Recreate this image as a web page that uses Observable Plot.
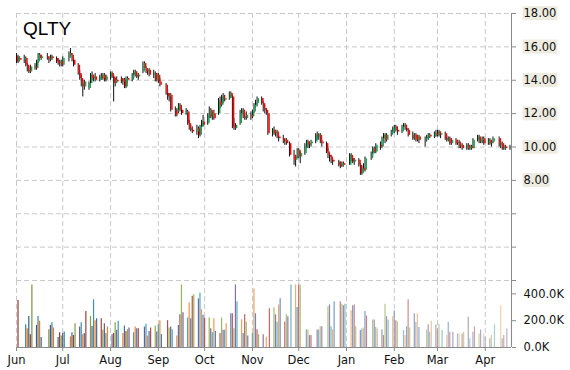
<!DOCTYPE html>
<html><head><meta charset="utf-8">
<script src="https://cdn.jsdelivr.net/npm/d3@7"></script>
<script src="https://cdn.jsdelivr.net/npm/@observablehq/plot@0.6"></script>
<style>
html,body{margin:0;padding:0;background:#fff;}
#chart{position:relative;width:570px;height:370px;overflow:hidden;}
#chart svg{position:absolute;left:0;}
#title{position:absolute;left:23px;top:19px;font:19px/19px "Liberation Sans",Arial,sans-serif;color:#000;z-index:2;}
</style></head><body>
<div id="chart"><div id="title">QLTY</div></div>
<script>
const ticker = "QLTY";
const monthTicks = ["2022-06-01","2022-07-01","2022-08-01","2022-09-01","2022-10-01","2022-11-01","2022-12-01","2023-01-01","2023-02-01","2023-03-01","2023-04-01"];
const monthLabels = ["Jun","Jul","Aug","Sep","Oct","Nov","Dec","Jan","Feb","Mar","Apr"];
const priceTicks = [2,4,6,8,10,12,14,16,18];
const priceLabelMin = 8;
const volumeTicks = [0,200000,400000];
const holidays = ["2022-06-20","2022-07-04","2022-09-05","2022-11-24","2022-12-26","2023-01-02","2023-01-16","2023-02-20","2023-04-07"];
// daily rows: [open, high, low, close, volume (thousands)]
const jun22 = [
[15.4,15.6,15.0,15.1,350],[15.1,15.5,15.0,15.4,0],[15.3,15.4,15.1,15.2,0],[15.2,15.5,15.0,15.3,170],
[15.3,15.4,14.8,14.9,140],[14.9,15.0,14.5,14.6,232],[14.6,14.8,14.4,14.5,96],[14.5,14.9,14.4,14.8,467],
[14.8,15.0,14.6,14.7,165],[14.7,15.2,14.6,15.1,232],[15.1,15.6,15.0,15.5,195],[15.5,15.6,15.2,15.3,74],
[15.3,15.5,15.2,15.4,0],[15.4,15.6,15.2,15.3,133],[15.3,15.4,15.0,15.2,165],[15.2,15.5,15.1,15.4,185],
[15.4,15.5,15.2,15.3,146],[15.3,15.4,15.0,15.1,74],[15.1,15.3,14.9,15.0,111],[15.0,15.2,14.8,15.1,86],
[15.1,15.2,14.8,14.9,104]];
const jul22 = [
[14.9,15.4,14.8,15.3,116],[15.3,15.7,15.1,15.6,79],[15.6,15.9,15.4,15.5,111],[15.5,15.6,15.1,15.2,90],
[15.2,15.3,14.8,14.9,178],[14.9,15.0,14.3,14.4,153],[14.4,14.6,14.0,14.1,185],[14.1,14.3,13.6,13.8,96],
[13.8,14.0,13.0,13.6,104],[13.6,14.0,13.4,13.9,269],[13.5,13.9,13.4,13.8,232],[13.8,14.4,13.7,14.3,156],
[14.3,14.5,14.0,14.1,356],[14.1,14.3,13.9,14.2,200],[14.2,14.4,13.9,14.0,215],[14.0,14.3,13.9,14.2,215],
[14.2,14.4,14.0,14.1,128],[14.1,14.4,14.0,14.3,178],[14.3,14.4,13.9,14.0,104],[14.0,14.3,13.9,14.2,153]];
const aug22 = [
[14.2,14.5,14.0,14.4,96],[14.4,14.5,14.1,14.2,104],[14.2,14.3,12.7,13.8,185],[13.8,14.1,13.6,14.0,128],
[14.0,14.2,13.8,13.9,195],[14.1,14.2,13.8,13.9,104],[13.9,14.1,13.7,14.0,160],[14.0,14.1,13.5,13.6,120],
[13.6,14.2,13.5,14.1,133],[14.1,14.2,13.8,14.0,146],[14.0,14.4,13.9,14.3,111],[14.3,14.6,14.1,14.5,153],
[14.5,14.6,14.2,14.3,140],[14.3,14.5,14.1,14.2,140],[14.2,14.4,14.0,14.3,0],[14.5,15.1,14.4,15.0,153],
[15.0,15.1,14.6,14.7,173],[14.7,14.8,14.4,14.5,86],[14.5,14.7,14.3,14.6,120],[14.6,14.7,14.2,14.3,146],
[14.3,14.6,14.1,14.4,160],[14.4,14.5,13.9,14.0,116],[14.0,14.4,13.9,14.3,170]];
const sep22 = [
[14.3,14.4,13.8,13.9,200],[13.9,14.1,13.6,13.7,96],[13.7,13.8,13.1,13.2,200],[13.2,13.4,12.8,13.0,146],
[13.0,13.2,12.7,13.1,153],[13.1,13.2,12.1,12.2,133],[12.2,12.4,11.8,11.9,86],[12.1,12.3,11.8,12.2,165],
[12.2,12.6,12.0,12.5,244],[12.5,12.6,12.1,12.2,467],[12.2,12.4,11.9,12.0,259],[12.0,12.3,11.9,12.1,220],
[12.1,12.2,11.3,11.4,333],[11.4,11.6,11.0,11.1,215],[11.1,11.3,10.9,11.0,383],[11.0,11.2,10.8,10.9,393],
[10.9,11.3,10.7,11.1,363],[11.1,11.2,10.5,10.7,407],[10.7,11.3,10.6,11.2,281],[11.2,11.6,11.1,11.5,240],
[11.5,11.9,11.2,11.3,220]];
const oct22 = [
[11.4,12.0,11.3,11.9,220],[11.9,12.4,11.7,12.2,140],[12.2,12.3,11.7,11.8,111],[11.8,12.1,11.6,12.0,215],
[12.0,12.2,11.6,11.7,120],[12.0,12.9,11.9,12.7,104],[12.7,13.0,12.3,12.5,220],[12.5,13.1,12.4,13.0,128],
[13.0,13.2,12.6,12.8,128],[12.8,13.1,12.7,12.9,178],[12.9,13.3,12.8,13.2,252],[13.2,13.3,12.9,13.0,252],
[13.0,13.1,11.1,11.2,140],[11.2,11.7,11.0,11.1,467],[11.1,11.4,11.0,11.3,341],[11.4,12.2,11.3,12.0,207],
[12.0,12.3,11.8,12.2,104],[12.2,12.3,11.7,11.8,244],[11.8,12.0,11.6,11.7,190],[11.7,12.1,11.6,11.9,86],
[11.9,12.1,11.6,11.8,104]];
const nov22 = [
[11.8,12.2,11.7,12.1,437],[12.1,12.6,12.0,12.5,252],[12.5,12.8,12.3,12.6,133],[12.6,13.0,12.4,12.9,96],
[12.9,13.0,12.5,12.6,96],[12.6,12.7,12.1,12.3,0],[12.3,12.5,12.0,12.2,76],[12.2,12.3,11.9,12.0,0],
[12.0,12.0,10.7,10.8,289],[10.8,11.1,10.6,11.0,296],[11.0,11.2,10.7,10.8,244],[10.8,11.0,10.6,10.9,188],
[10.9,11.0,10.5,10.6,318],[10.6,10.7,10.3,10.5,363],[10.5,10.7,10.2,10.3,190],[10.3,10.5,10.1,10.4,244],
[10.4,10.5,10.1,10.2,230],[10.2,10.3,9.4,9.5,467],[9.5,9.8,8.9,9.2,467],[9.2,9.5,8.8,9.4,299],
[9.4,9.9,9.3,9.8,467]];
const dec22 = [
[9.8,9.9,9.3,9.4,467],[9.4,9.7,9.0,9.6,0],[9.6,10.2,9.5,10.0,131],[10.0,10.4,9.9,10.3,131],
[10.3,10.4,9.9,10.1,89],[10.1,10.3,9.9,10.2,89],[10.2,10.4,10.0,10.3,0],[10.3,10.8,10.2,10.7,131],
[10.7,10.9,10.4,10.6,131],[10.6,10.8,10.4,10.7,155],[10.7,10.8,10.2,10.3,155],[10.3,10.4,10.0,10.2,0],
[10.2,10.3,9.6,9.7,304],[9.7,9.9,9.3,9.5,318],[9.5,9.6,9.1,9.4,155],[9.4,9.5,9.0,9.2,131],
[9.2,9.3,8.9,9.1,341],[9.1,9.2,8.8,8.9,341],[8.9,9.1,8.7,8.8,323],[8.8,9.1,8.8,9.0,311],
[9.0,9.1,8.8,8.9,323]];
const jan23 = [
[8.9,9.6,8.9,9.5,274],[9.5,9.6,9.1,9.3,311],[9.3,9.4,9.0,9.1,318],[9.1,9.3,8.9,9.2,155],
[9.2,9.3,8.8,8.9,126],[8.9,9.0,8.3,8.4,138],[8.4,8.8,8.3,8.7,145],[8.7,9.0,8.5,8.6,269],
[8.6,9.4,8.5,9.3,235],[9.3,9.7,9.2,9.6,205],[9.6,10.0,9.4,9.9,205],[9.9,10.0,9.6,9.7,150],
[9.7,10.2,9.6,10.1,138],[10.1,10.3,9.8,10.0,131],[10.0,10.6,9.9,10.5,89],[10.5,10.8,10.3,10.7,323],
[10.7,10.8,10.2,10.4,230],[10.4,10.8,10.3,10.7,205],[10.7,11.0,10.6,10.9,230],[10.9,11.2,10.8,11.1,274]];
const feb23 = [
[11.0,11.3,10.8,11.2,200],[11.2,11.3,10.9,11.0,193],[11.0,11.2,10.7,10.9,0],[10.9,11.3,10.8,11.2,126],
[11.2,11.4,11.0,11.3,89],[11.3,11.4,11.0,11.1,155],[11.1,11.3,10.9,11.0,356],[11.0,11.1,10.6,10.7,145],
[10.7,10.9,10.4,10.5,252],[10.5,10.8,10.4,10.7,188],[10.7,10.8,10.3,10.4,252],[10.4,10.7,10.3,10.6,150],
[10.6,10.7,10.2,10.4,0],[10.4,10.6,10.0,10.5,131],[10.5,10.7,10.3,10.6,169],[10.6,10.8,10.4,10.7,114],
[10.7,10.8,10.5,10.6,195],[10.6,10.9,10.5,10.8,167],[10.8,11.0,10.6,10.7,138]];
const mar23 = [
[10.7,11.0,10.6,10.9,174],[10.9,11.0,10.6,10.7,0],[10.7,10.9,10.5,10.8,126],[10.8,10.9,10.4,10.5,89],
[10.5,10.7,10.3,10.4,188],[10.4,10.6,10.3,10.5,114],[10.5,10.6,10.1,10.2,0],[10.2,10.5,10.1,10.4,114],
[10.4,10.5,10.1,10.2,101],[10.2,10.4,10.1,10.3,101],[10.3,10.4,9.9,10.0,0],[10.0,10.2,9.9,10.1,101],
[10.1,10.2,9.8,9.9,114],[9.9,10.2,9.8,10.1,225],[10.1,10.2,9.8,9.9,66],[9.9,10.1,9.8,10.0,0],
[10.0,10.1,9.8,9.9,114],[9.9,10.5,9.9,10.4,155],[10.4,10.7,10.3,10.6,101],[10.6,10.7,10.2,10.3,131],
[10.3,10.5,10.2,10.4,0],[10.4,10.6,10.2,10.5,101],[10.5,10.6,10.1,10.2,77]];
const apr23 = [
[10.2,10.5,10.1,10.4,66],[10.4,10.5,10.1,10.2,89],[10.2,10.4,10.0,10.3,0],[10.3,10.6,10.2,10.5,169],
[10.5,10.6,10.0,10.1,311],[10.1,10.3,9.9,10.2,66],[10.2,10.3,9.8,9.9,89],[9.9,10.1,9.8,10.0,0],
[10.0,10.1,9.8,9.9,138],[9.9,10.1,9.8,10.0,188]];
const months = [["2022-06",jun22],["2022-07",jul22],["2022-08",aug22],["2022-09",sep22],["2022-10",oct22],["2022-11",nov22],["2022-12",dec22],["2023-01",jan23],["2023-02",feb23],["2023-03",mar23],["2023-04",apr23]];
const xDomain = [new Date("2022-06-01T00:00Z"), new Date("2023-04-18T00:00Z")];

// build table: rows assigned to consecutive trading days of their month
const holidaySet = new Set(holidays);
const data = [];
for (const [ym, rows] of months) {
  let d = new Date(ym + "-01T00:00Z"), i = 0;
  while (i < rows.length) {
    const iso = d.toISOString().slice(0,10), wd = d.getUTCDay();
    if (wd !== 0 && wd !== 6 && !holidaySet.has(iso)) {
      const [o,h,l,c,v] = rows[i++];
      data.push({date: new Date(d), open:o, high:h, low:l, close:c, volume:v*1000});
    }
    d = new Date(d.getTime() + 86400000);
  }
}
const palette = ["#C0504D","#9BBB59","#8064A2","#4BACC6","#F79646","#4F81BD"];
data.forEach((d,i) => {
  const t = i/(data.length-1);
  const c = d3.hsl(palette[i % palette.length]);
  c.l = Math.min(0.9, c.l - 0.14 + 0.36*t);
  c.s = c.s * (1 - 0.25*t);
  d.vcolor = c.formatHex();
});
const monthDates = monthTicks.map(s => new Date(s + "T00:00Z"));
const labelOf = new Map(monthDates.map((d,i) => [+d, monthLabels[i]]));
const GRID = "#c9c9c9", AXIS = "#8a8a8a", UP = "#13a356", DOWN = "#ff0000";
const font = {fontFamily:"'DejaVu Sans', Verdana, sans-serif", fontSize:"11.5px", color:AXIS, background:"transparent", overflow:"visible"};

const pricePlot = Plot.plot({
  width:570, height:282, marginTop:13, marginBottom:2, marginLeft:16, marginRight:59,
  style: font,
  x: {type:"utc", domain:xDomain, axis:null},
  y: {domain:[2,18], axis:"right", ticks:priceTicks, tickSize:4, tickPadding:8, label:null,
      tickFormat: d => d >= priceLabelMin ? d.toFixed(2) : ""},
  marks: [
    Plot.ruleY(priceTicks, {stroke:GRID, strokeDasharray:"5,3"}),
    Plot.ruleX(monthDates, {stroke:GRID, strokeDasharray:"5,3"}),
    Plot.ruleX(data, {x:"date", y1:"low", y2:"high", stroke:"#111", strokeWidth:1}),
    Plot.ruleX(data, {x:"date", y1:"open", y2:"close", stroke: d => d.close >= d.open ? UP : DOWN, strokeWidth:1.5, dx:1.2}),
    Plot.ruleX([xDomain[1]], {stroke:AXIS, strokeWidth:1})
  ]
});
const volumePlot = Plot.plot({
  width:570, height:90, marginTop:0, marginBottom:23, marginLeft:16, marginRight:59,
  style: font,
  x: {type:"utc", domain:xDomain, ticks:monthDates, tickSize:4, tickPadding:4, label:null,
      tickFormat: d => labelOf.get(+d) ?? ""},
  y: {domain:[0,500000], axis:"right", ticks:volumeTicks, tickSize:4, tickPadding:8, label:null,
      tickFormat: d => (d/1000).toFixed(1) + "K"},
  marks: [
    Plot.ruleX(monthDates, {stroke:GRID, strokeDasharray:"5,3"}),
    Plot.ruleX(data, {x:"date", y:"volume", stroke:"vcolor", strokeWidth:1.2, dx:1.5}),
    Plot.ruleY([0], {stroke:AXIS}),
    Plot.ruleX([xDomain[1]], {stroke:AXIS, strokeWidth:1})
  ]
});
pricePlot.style.top = "0px";
volumePlot.style.top = "280px";
const chart = document.getElementById("chart");
chart.appendChild(pricePlot);
chart.appendChild(volumePlot);

function finish(svg, withBg) {
  d3.select(svg).selectAll("text").attr("fill", "#111");
  if (!withBg) return;
  d3.select(svg).selectAll("text").each(function() {
    if (!/^\d+\.00$/.test(this.textContent)) return;
    const b = this.getBBox();
    const r = document.createElementNS("http://www.w3.org/2000/svg", "rect");
    r.setAttribute("x", b.x - 1);
    r.setAttribute("y", b.y);
    r.setAttribute("width", b.width + 2);
    r.setAttribute("height", b.height);
    r.setAttribute("fill", "#eeebe0");
    r.setAttribute("stroke", "none");
    const tr = this.getAttribute("transform");
    if (tr) r.setAttribute("transform", tr);
    this.parentNode.insertBefore(r, this);
  });
}
finish(pricePlot, true);
finish(volumePlot, false);
</script>
</body></html>
